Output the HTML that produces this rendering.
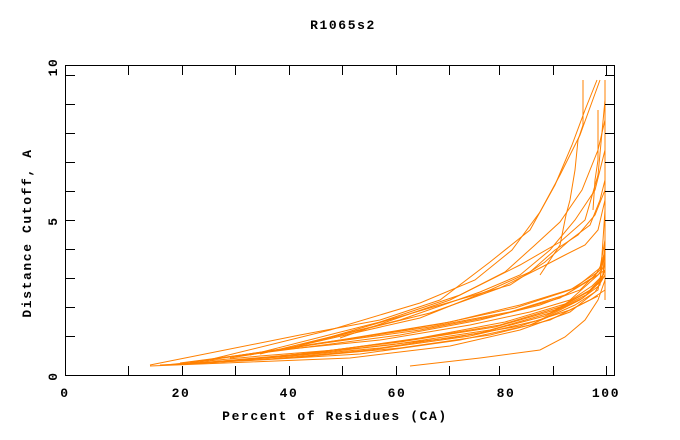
<!DOCTYPE html>
<html><head><meta charset="utf-8"><style>
html,body{margin:0;padding:0;background:#fff;width:680px;height:440px;overflow:hidden}
text{font-family:"Liberation Mono",monospace;font-weight:bold;font-size:13px;letter-spacing:1.6px;fill:#000}
</style></head><body>
<svg width="680" height="440" viewBox="0 0 680 440">
<text x="343" y="29" text-anchor="middle">R1065s2</text>
<g fill="none" stroke="#ff8000" stroke-width="1">
<polyline points="410,366 480,358 540,350 565,337 585,320 598,300 605,280 605,230"/>
<polyline points="150,366 250,362 350,358 450,346 520,330 570,312 595,292 605,275"/>
<polyline points="160,365 260,360 360,354 460,340 530,325 575,305 598,290 605,250"/>
<polyline points="170,365 270,359 370,350 470,336 540,320 580,300 600,285 605,210"/>
<polyline points="180,364 280,357 380,348 480,333 545,316 583,298 600,282 605,270"/>
<polyline points="190,364 290,356 390,345 490,330 550,313 586,295 602,280 605,260"/>
<polyline points="200,363 300,354 400,342 495,327 555,310 588,292 603,278"/>
<polyline points="210,363 310,353 410,340 500,325 560,307 590,290 603,276 605,240"/>
<polyline points="220,362 320,352 420,338 505,322 565,304 592,286 604,274"/>
<polyline points="175,364 290,358 400,348 490,335 550,320 590,300 605,290"/>
<polyline points="165,365 260,356 360,348 450,338 520,326 570,310 598,296"/>
<polyline points="180,363 280,350 380,340 470,325 530,312 570,300 598,275 605,265"/>
<polyline points="190,362 300,348 400,335 480,320 540,305 580,290 600,270 605,250"/>
<polyline points="200,361 310,345 420,330 500,315 560,298 590,280 605,270"/>
<polyline points="210,360 320,343 430,327 510,312 565,295 595,276 605,258"/>
<polyline points="230,358 330,342 440,324 515,308 570,290 598,272"/>
<polyline points="240,356 340,340 450,322 520,305 575,288 600,268 605,240"/>
<polyline points="150,365 300,335 380,320 440,300 490,262 530,230 555,185 572,145 585,110 597,80"/>
<polyline points="200,362 330,330 420,303 475,280 512,250 540,212 560,175 580,135 600,80"/>
<polyline points="583,80 583,125 578,140 575,170 570,200 566,215 560,245 540,275"/>
<polyline points="250,355 380,322 460,295 505,272 535,245 560,222 582,190 598,150 605,120"/>
<polyline points="260,354 400,320 480,292 520,275 550,250 575,220 595,190 605,150"/>
<polyline points="280,350 420,318 490,290 530,272 555,250 578,235 595,215 605,190"/>
<polyline points="300,345 430,313 500,288 540,268 565,255 585,245 598,230 605,200"/>
<polyline points="320,340 440,305 510,285 545,262 570,240 590,225 600,200 605,180"/>
<polyline points="340,338 450,300 520,265 560,242 585,220 598,175 605,100"/>
<polyline points="605,80 605,300"/>
<polyline points="598,110 598,160 595,180 593,210"/>
</g>
<g stroke="#000" stroke-width="1" fill="none">
<rect x="65.5" y="65.5" width="549" height="310"/>
<path d="M65 104.5h10M65 133.5h10M65 162.5h10M65 191.5h10M65 220.5h10M65 249.5h10M65 278.5h10M65 307.5h10M65 336.5h10M65 75.5h10
M615 104.5h-10M615 133.5h-10M615 162.5h-10M615 191.5h-10M615 220.5h-10M615 249.5h-10M615 278.5h-10M615 307.5h-10M615 336.5h-10M615 75.5h-10
M128.5 376v-10M182.5 376v-10M235.5 376v-10M289.5 376v-10M342.5 376v-10M396.5 376v-10M449.5 376v-10M499.5 376v-10M553.5 376v-10M606.5 376v-10
M128.5 65v10M182.5 65v10M235.5 65v10M289.5 65v10M342.5 65v10M396.5 65v10M449.5 65v10M499.5 65v10M553.5 65v10M606.5 65v10"/>
</g>
<text x="65" y="397" text-anchor="middle">0</text>
<text x="181" y="397" text-anchor="middle">20</text>
<text x="289" y="397" text-anchor="middle">40</text>
<text x="397" y="397" text-anchor="middle">60</text>
<text x="506" y="397" text-anchor="middle">80</text>
<text x="606" y="397" text-anchor="middle">100</text>
<text x="335" y="420" text-anchor="middle">Percent of Residues (CA)</text>
<text transform="translate(57,376) rotate(-90)" text-anchor="middle">0</text>
<text transform="translate(57,221) rotate(-90)" text-anchor="middle">5</text>
<text transform="translate(57,67) rotate(-90)" text-anchor="middle">10</text>
<text transform="translate(31,233) rotate(-90)" text-anchor="middle">Distance Cutoff, A</text>
</svg>
</body></html>
